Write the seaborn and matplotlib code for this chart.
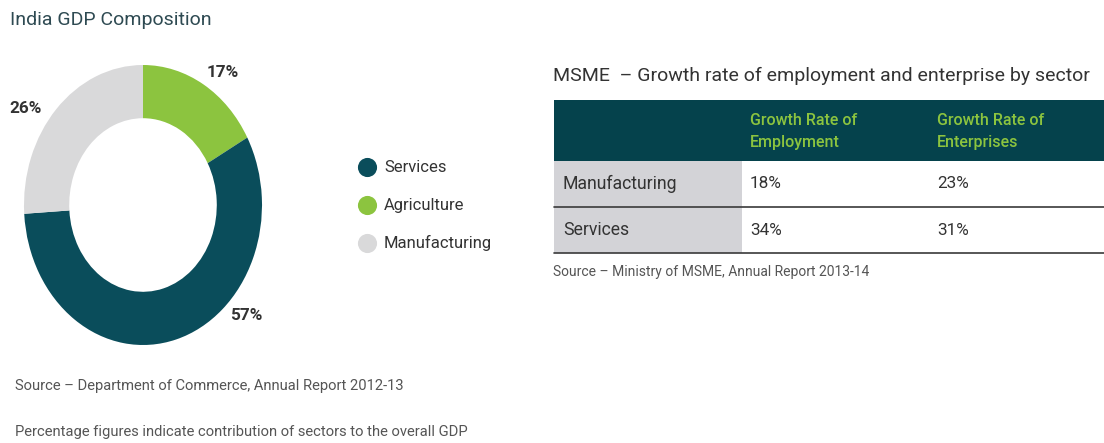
import matplotlib
matplotlib.use("Agg")
import matplotlib.pyplot as plt
import seaborn as sns
from matplotlib.patches import Rectangle

# ---- data -------------------------------------------------------------
sectors = ["Services", "Agriculture", "Manufacturing"]
gdp_share = [57, 17, 26]

table_columns = ["Growth Rate of\nEmployment", "Growth Rate of\nEnterprises"]
table_rows = ["Manufacturing", "Services"]
employment_growth = [18, 34]
enterprise_growth = [23, 31]

# ---- style ------------------------------------------------------------
sns.set_theme(style="white")
plt.rcParams["font.family"] = ["Roboto", "DejaVu Sans"]

TEAL = "#0a4d5b"
HEADER = "#05424c"
GREEN = "#8cc43f"
LIGHT = "#d9d9da"
LABEL_BG = "#d3d3d7"
TITLE_C = "#2e4a52"
TEXT_C = "#333333"
SOURCE_C = "#555555"
palette = dict(zip(sectors, sns.color_palette([TEAL, GREEN, LIGHT])))

W, H = 1104, 443
fig = plt.figure(figsize=(W / 100, H / 100), dpi=100)

# overlay axes in pixel units for text, legend and table
ov = fig.add_axes([0, 0, 1, 1])
ov.set_xlim(0, W)
ov.set_ylim(H, 0)
ov.axis("off")

# ---- donut ------------------------------------------------------------
cx, cy, rx, ry = 143, 205, 119, 140
dax = fig.add_axes([(cx - rx) / W, (H - cy - ry) / H, 2 * rx / W, 2 * ry / H])
pie_order = ["Agriculture", "Services", "Manufacturing"]
share = dict(zip(sectors, gdp_share))
dax.pie([share[s] for s in pie_order],
        colors=[palette[s] for s in pie_order],
        startangle=90, counterclock=False, radius=1,
        wedgeprops=dict(width=0.38, linewidth=0))
dax.set_aspect("auto")
dax.set_xlim(-1, 1)
dax.set_ylim(-1, 1)
dax.axis("off")

label_pos = {"Agriculture": (223, 72), "Manufacturing": (26, 108),
             "Services": (246, 315)}
for s in sectors:
    x, y = label_pos[s]
    ov.text(x, y, f"{share[s]}%", ha="center", va="center",
            fontsize=12.3, fontweight="bold", color=TEXT_C)

ov.text(10, 20, "India GDP Composition", ha="left", va="center",
        fontsize=14, color=TITLE_C)

# legend
for i, s in enumerate(sectors):
    y = 167 + i * 38
    ov.scatter([367], [y], s=190, color=palette[s], linewidths=0, zorder=3)
    ov.text(384, y, s, ha="left", va="center", fontsize=12, color=TEXT_C)

ov.text(15, 386, "Source \u2013 Department of Commerce, Annual Report 2012-13",
        ha="left", va="center", fontsize=10.6, color=SOURCE_C)
ov.text(15, 432, "Percentage figures indicate contribution of sectors to the overall GDP",
        ha="left", va="center", fontsize=10.6, color=SOURCE_C)

# ---- table ------------------------------------------------------------
ov.text(553, 76, "MSME  \u2013 Growth rate of employment and enterprise by sector",
        ha="left", va="center", fontsize=14, color=TEXT_C)

tx0, tx1 = 554, W
hdr_top, hdr_bot = 100, 161
row_h = 46
lab_w = 742
col_x = [750, 937]

ov.add_patch(Rectangle((tx0, hdr_top), tx1 - tx0, hdr_bot - hdr_top,
                       color=HEADER, lw=0))
for j, c in enumerate(table_columns):
    ov.text(col_x[j], (hdr_top + hdr_bot) / 2 + 1, c, ha="left", va="center",
            fontsize=11.5, fontweight="medium", color=GREEN, linespacing=1.55)

values = [employment_growth, enterprise_growth]
for i, r in enumerate(table_rows):
    top = hdr_bot + i * row_h
    ov.add_patch(Rectangle((tx0, top), lab_w - tx0, row_h, color=LABEL_BG, lw=0))
    ymid = top + row_h / 2
    ov.text(563, ymid, r, ha="left", va="center", fontsize=12.7, color=TEXT_C)
    for j in range(len(table_columns)):
        ov.text(col_x[j], ymid, f"{values[j][i]}%", ha="left", va="center",
                fontsize=12.3, color=TEXT_C)
    ov.plot([tx0, tx1], [top + row_h, top + row_h], color="#3a3a3a", lw=1.2)

ov.text(553, 272, "Source \u2013 Ministry of MSME, Annual Report 2013-14",
        ha="left", va="center", fontsize=10, color=SOURCE_C)

fig.savefig("out.png", dpi=100, facecolor="white")
